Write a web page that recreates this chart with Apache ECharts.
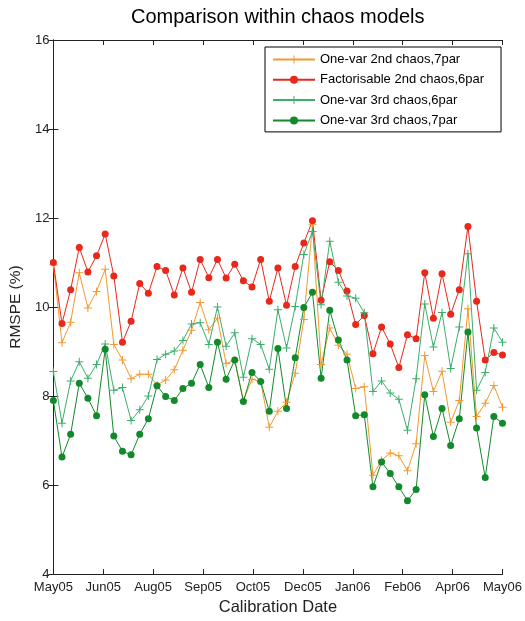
<!DOCTYPE html>
<html>
<head>
<meta charset="utf-8">
<script src="https://cdn.jsdelivr.net/npm/echarts@6/dist/echarts.min.js"></script>
<style>
  html, body { margin: 0; padding: 0; background: #fff; }
  #chart { width: 525px; height: 621px; }
</style>
</head>
<body>
<div id="chart"></div>
<script>
// Weekly RMSPE (%) per calibration date, May 2005 – May 2006
const tickLabels = ['May05', 'Jun05', 'Aug05', 'Sep05', 'Oct05', 'Dec05', 'Jan06', 'Feb06', 'Apr06', 'May06'];

const oneVar2nd7par = [10.95, 9.20, 9.66, 10.77, 9.98, 10.35, 10.85, 9.16, 8.81, 8.39,
  8.49, 8.49, 8.25, 8.36, 8.59, 9.03, 9.48, 10.10, 9.49, 9.75,
  8.73, 8.80, 7.90, 8.38, 8.33, 7.30, 7.66, 7.86, 8.51, 9.72,
  11.85, 8.71, 9.53, 9.14, 8.94, 8.17, 8.21, 6.22, 6.56, 6.72,
  6.66, 6.32, 6.93, 8.91, 8.10, 8.56, 7.41, 7.90, 9.96, 7.54,
  7.84, 8.24, 7.75];

const factorisable2nd6par = [11.00, 9.63, 10.39, 11.34, 10.79, 11.15, 11.64, 10.70, 9.21, 9.68,
  10.53, 10.31, 10.91, 10.82, 10.27, 10.88, 10.33, 11.07, 10.66, 11.07,
  10.65, 10.96, 10.59, 10.45, 11.07, 10.13, 10.88, 10.04, 10.91, 11.44,
  11.94, 10.15, 11.02, 10.82, 10.36, 9.61, 9.81, 8.95, 9.55, 9.17,
  8.64, 9.38, 9.29, 10.77, 9.75, 10.75, 9.84, 10.39, 11.81, 10.13,
  8.81, 8.98, 8.92];

const oneVar3rd6par = [8.55, 7.39, 8.34, 8.77, 8.40, 8.71, 9.17, 8.13, 8.19, 7.45,
  7.69, 8.00, 8.82, 8.94, 9.01, 9.25, 9.62, 9.65, 9.16, 10.00,
  9.12, 9.42, 8.42, 9.29, 9.16, 8.60, 9.94, 9.08, 10.01, 11.18,
  11.70, 10.05, 11.48, 10.56, 10.25, 10.20, 9.87, 8.10, 8.34, 8.07,
  7.93, 7.23, 8.39, 10.07, 9.10, 9.88, 8.62, 9.55, 11.20, 8.13,
  8.53, 9.53, 9.21];

const oneVar3rd7par = [7.90, 6.63, 7.14, 8.29, 7.95, 7.56, 9.05, 7.10, 6.76, 6.68,
  7.14, 7.49, 8.23, 7.99, 7.90, 8.17, 8.29, 8.71, 8.19, 9.21,
  8.38, 8.81, 7.88, 8.53, 8.33, 7.66, 9.07, 7.72, 8.86, 9.99,
  10.33, 8.40, 9.93, 9.26, 8.81, 7.56, 7.58, 5.96, 6.52, 6.26,
  5.96, 5.65, 5.90, 8.03, 7.09, 7.72, 6.89, 7.49, 9.44, 7.28,
  6.17, 7.54, 7.39];

const seriesNames = [
  'One-var 2nd chaos,7par',
  'Factorisable 2nd chaos,6par',
  'One-var 3rd chaos,6par',
  'One-var 3rd chaos,7par'
];

// week index -> x position; the date ticks split the year into 9 equal spans
const lastWeek = oneVar2nd7par.length - 1;
const tickPositions = tickLabels.map((_, k) => k * lastWeek / (tickLabels.length - 1));
const toPoints = arr => arr.map((v, i) => [i, v]);

const FONT = 'Liberation Sans, Arial, sans-serif';
const AXIS_COLOR = '#222';
const PLUS = 'path://M7,0h2v7h7v2h-7v7h-2v-7h-7v-2h7z';

const chart = echarts.init(document.getElementById('chart'), null, { renderer: 'canvas' });

const xBase = {
  type: 'value', min: 0, max: lastWeek,
  axisLine: { show: true, onZero: false, lineStyle: { color: AXIS_COLOR, width: 1 } },
  axisTick: { show: true, inside: true, length: 5, customValues: tickPositions, lineStyle: { color: AXIS_COLOR } },
  splitLine: { show: false }
};
const yBase = {
  type: 'value', min: 4, max: 16, interval: 2,
  axisLine: { show: true, lineStyle: { color: AXIS_COLOR, width: 1 } },
  axisTick: { show: true, inside: true, length: 5, lineStyle: { color: AXIS_COLOR } },
  splitLine: { show: false }
};

function lineSeries(name, data, color, symbol, size) {
  return {
    name, type: 'line', data: toPoints(data),
    xAxisIndex: 0, yAxisIndex: 0,
    symbol, symbolSize: size, showSymbol: true,
    lineStyle: { color, width: 1 },
    itemStyle: { color, borderWidth: 0 },
    emphasis: { disabled: true },
    animation: false
  };
}

chart.setOption({
  backgroundColor: '#fff',
  animation: false,
  textStyle: { fontFamily: FONT },
  title: {
    text: 'Comparison within chaos models',
    left: 131, top: 7,
    padding: 0,
    textStyle: { fontFamily: FONT, fontSize: 20, fontWeight: 'normal', color: '#000' }
  },
  grid: { left: 53, right: 19, top: 40, bottom: 43, containLabel: false },
  legend: {
    left: 265, top: 47,
    orient: 'vertical',
    padding: [6, 17, 5, 7],
    itemWidth: 42, itemHeight: 10, itemGap: 7.3,
    backgroundColor: '#fff',
    borderColor: '#000', borderWidth: 1, borderRadius: 0,
    textStyle: { fontFamily: FONT, fontSize: 13, color: '#000' },
    data: seriesNames,
    selectedMode: false
  },
  xAxis: [
    Object.assign({}, xBase, {
      position: 'bottom',
      name: 'Calibration Date', nameLocation: 'middle', nameGap: 22,
      nameTextStyle: { fontFamily: FONT, fontSize: 16.5, color: '#222' },
      axisLabel: {
        show: true, margin: 7, customValues: tickPositions,
        fontFamily: FONT, fontSize: 13, color: '#222',
        formatter: v => tickLabels[Math.round(v * (tickLabels.length - 1) / lastWeek)]
      }
    }),
    Object.assign({}, xBase, { position: 'top', axisLabel: { show: false } })
  ],
  yAxis: [
    Object.assign({}, yBase, {
      position: 'left',
      name: 'RMSPE (%)', nameLocation: 'middle', nameGap: 21, nameRotate: 90,
      nameTextStyle: { fontFamily: FONT, fontSize: 15.5, color: '#222' },
      axisLabel: { show: true, margin: 4, fontFamily: FONT, fontSize: 13, color: '#222' }
    }),
    Object.assign({}, yBase, { position: 'right', axisLabel: { show: false } })
  ],
  series: [
    lineSeries(seriesNames[0], oneVar2nd7par, '#f09a30', PLUS, 8),
    lineSeries(seriesNames[1], factorisable2nd6par, '#e8281a', 'circle', 7),
    lineSeries(seriesNames[2], oneVar3rd6par, '#3cae6c', PLUS, 8),
    lineSeries(seriesNames[3], oneVar3rd7par, '#128a2c', 'circle', 7)
  ]
});
</script>
</body>
</html>
